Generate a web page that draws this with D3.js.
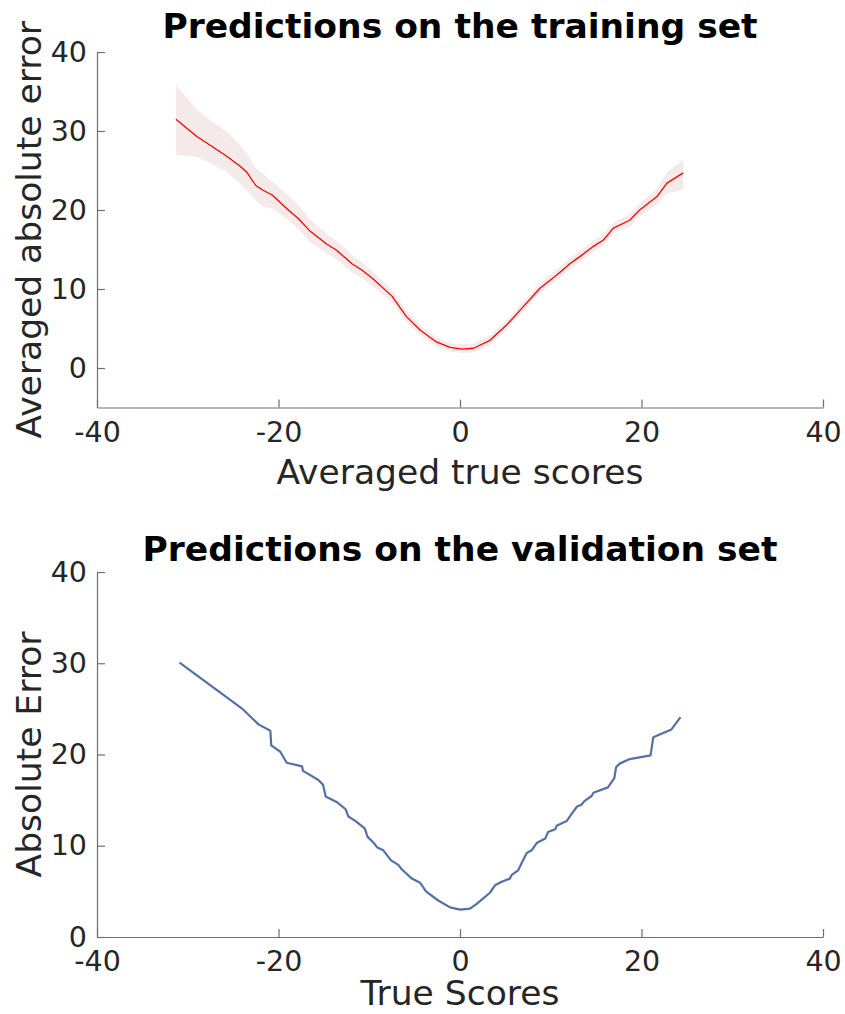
<!DOCTYPE html>
<html>
<head>
<meta charset="utf-8">
<script src="https://cdn.jsdelivr.net/npm/d3@7"></script>
<style>
  body { margin: 0; background: #fff; }
  svg { display: block; font-family: "DejaVu Sans", sans-serif; }
  .axis path, .axis line { stroke: #6e6e6e; stroke-width: 1.2; }
  .axis text { fill: #262626; font-size: 28.5px; font-family: "DejaVu Sans", sans-serif; }
</style>
</head>
<body>
<svg width="845" height="1014"></svg>
<script>
// training set: averaged true score, averaged absolute error, and the shaded band
const trainX = [-31.3, -29.0, -27.4, -25.7, -24.3, -23.5, -22.5, -21.7, -20.7, -19.1, -17.8, -16.5, -14.7, -13.6, -11.9, -10.7, -9.5, -7.5, -5.9, -4.4, -2.6, -1.1, 0.2, 1.5, 3.3, 5.1, 6.6, 8.8, 10.7, 12.1, 13.2, 14.7, 15.8, 16.9, 18.7, 19.8, 21.7, 22.8, 24.6];
const trainErr = [31.5, 29.3, 28.1, 26.8, 25.6, 24.8, 23.1, 22.5, 21.9, 20.2, 18.9, 17.3, 15.7, 14.9, 13.2, 12.3, 11.2, 9.1, 6.5, 4.8, 3.3, 2.6, 2.4, 2.5, 3.5, 5.4, 7.3, 10.1, 11.8, 13.2, 14.1, 15.4, 16.2, 17.7, 18.7, 20.0, 21.7, 23.4, 24.7];
const trainUpper = [35.9, 32.7, 31.3, 29.9, 28.3, 27.2, 25.3, 24.6, 23.6, 22.0, 20.6, 18.8, 17.0, 16.1, 14.3, 13.3, 12.1, 9.9, 7.2, 5.4, 3.9, 3.1, 3.0, 3.1, 4.1, 6.0, 7.9, 10.7, 12.5, 13.9, 14.8, 16.1, 16.9, 18.4, 19.5, 20.8, 22.7, 24.8, 26.3];
const trainLower = [27.0, 26.7, 25.9, 24.8, 23.4, 22.5, 21.2, 20.4, 20.2, 18.9, 17.6, 15.9, 14.5, 13.8, 12.1, 11.3, 10.3, 8.3, 5.8, 4.2, 2.7, 2.1, 1.9, 2.0, 2.9, 4.8, 6.7, 9.5, 11.1, 12.5, 13.4, 14.7, 15.5, 17.0, 17.9, 19.2, 20.7, 22.1, 22.6];

// validation set: true score and absolute error
const valX = [-30.9, -24.05, -22.2, -20.9, -20.8, -19.8, -19.1, -17.4, -17.3, -15.6, -15.1, -14.8, -13.6, -12.6, -12.3, -11.5, -10.5, -10.2, -9.5, -9.1, -8.45, -7.6, -6.8, -6.4, -5.3, -4.4, -3.75, -2.4, -1.1, 0.0, 1.1, 1.8, 2.4, 3.3, 3.9, 4.6, 5.5, 5.7, 6.4, 6.8, 7.35, 7.9, 8.45, 9.4, 9.7, 10.5, 10.65, 11.75, 12.3, 12.9, 13.4, 13.7, 14.5, 14.7, 16.3, 17.0, 17.2, 17.6, 18.7, 21.0, 21.3, 23.3, 24.3];
const valErr = [30.06, 25.06, 23.3, 22.6, 21.0, 20.3, 19.1, 18.7, 18.2, 17.2, 16.7, 15.4, 14.8, 14.0, 13.2, 12.7, 11.9, 11.0, 10.3, 9.8, 9.5, 8.4, 7.9, 7.4, 6.4, 5.95, 5.0, 4.0, 3.25, 3.0, 3.1, 3.6, 4.1, 4.85, 5.7, 6.06, 6.4, 6.8, 7.3, 8.1, 9.2, 9.5, 10.3, 10.8, 11.5, 11.8, 12.2, 12.7, 13.5, 14.3, 14.5, 14.9, 15.45, 15.8, 16.4, 17.4, 18.6, 19.0, 19.5, 19.9, 21.9, 22.75, 24.1];

const xTicks = [-40, -20, 0, 20, 40];
const yTicks = [0, 10, 20, 30, 40];

const svg = d3.select('svg');

function drawPanel(opts) {
  const x = d3.scaleLinear().domain([-40, 40]).range([97, 823]);
  const y = d3.scaleLinear().domain(opts.yDomain).range(opts.yRange);
  const g = svg.append('g');

  if (opts.band) {
    const area = d3.area()
      .x(d => x(d.x))
      .y0(d => y(d.lo))
      .y1(d => y(d.hi));
    g.append('path')
      .datum(opts.band)
      .attr('d', area)
      .attr('fill', '#f4eaea');
  }

  const line = d3.line().x(d => x(d.x)).y(d => y(d.y));
  g.append('path')
    .datum(opts.points)
    .attr('d', line)
    .attr('fill', 'none')
    .attr('stroke', opts.color)
    .attr('stroke-width', opts.width)
    .attr('stroke-linejoin', 'round');

  // plain hyphen for negatives, like the original
  const fmt = d => String(d);

  g.append('g')
    .attr('class', 'axis')
    .attr('transform', `translate(0,${opts.yRange[0]})`)
    .call(d3.axisBottom(x).tickValues(xTicks).tickSize(-8).tickSizeOuter(0).tickPadding(14).tickFormat(fmt));

  g.append('g')
    .attr('class', 'axis')
    .attr('transform', 'translate(97,0)')
    .call(d3.axisLeft(y).tickValues(yTicks).tickSize(-8).tickSizeOuter(0).tickPadding(10).tickFormat(fmt));

  g.append('text')
    .attr('x', 460).attr('y', opts.titleY)
    .attr('text-anchor', 'middle')
    .attr('font-size', 34.5).attr('font-weight', 'bold').attr('fill', '#000')
    .text(opts.title);

  g.append('text')
    .attr('x', 460).attr('y', opts.xLabelY)
    .attr('text-anchor', 'middle')
    .attr('font-size', 34.5).attr('fill', '#262626')
    .text(opts.xLabel);

  const yc = (opts.yRange[0] + opts.yRange[1]) / 2;
  g.append('text')
    .attr('transform', `translate(41,${yc}) rotate(-90)`)
    .attr('text-anchor', 'middle')
    .attr('font-size', 34.5).attr('fill', '#262626')
    .text(opts.yLabel);
}

drawPanel({
  yDomain: [-5, 40], yRange: [407.5, 52],
  points: trainX.map((v, i) => ({ x: v, y: trainErr[i] })),
  band: trainX.map((v, i) => ({ x: v, lo: trainLower[i], hi: trainUpper[i] })),
  color: '#ff0000', width: 1.3,
  title: 'Predictions on the training set', titleY: 38,
  xLabel: 'Averaged true scores', xLabelY: 484,
  yLabel: 'Averaged absolute error'
});

drawPanel({
  yDomain: [0, 40], yRange: [937, 572],
  points: valX.map((v, i) => ({ x: v, y: valErr[i] })),
  color: '#5470a6', width: 2.2,
  title: 'Predictions on the validation set', titleY: 561,
  xLabel: 'True Scores', xLabelY: 1005,
  yLabel: 'Absolute Error'
});
</script>
</body>
</html>
